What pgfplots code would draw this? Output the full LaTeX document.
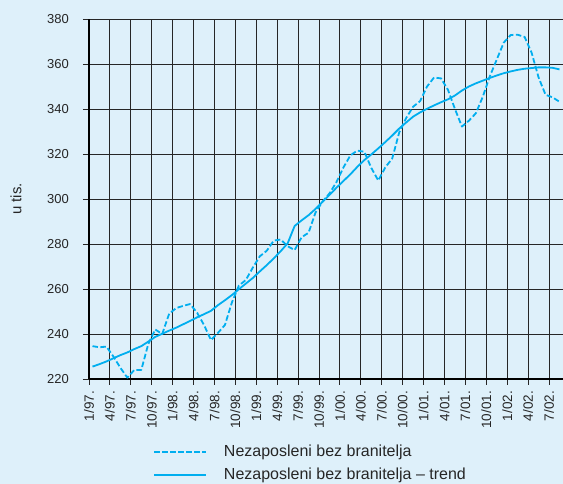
\documentclass[border=0pt]{standalone}
\usepackage{fontspec}
\setmainfont{Liberation Sans}
\usepackage{pgfplots}
\pgfplotsset{compat=1.18}
\definecolor{bg}{RGB}{222,240,250}
\definecolor{cy}{RGB}{0,174,239}
\begin{document}
\begin{tikzpicture}
\fill[bg] (-89pt,-105pt) rectangle (474pt,379pt);
\path[use as bounding box] (-89pt,-105pt) rectangle (474pt,379pt);
\begin{axis}[
 at={(0pt,0pt)}, anchor=south west,
 scale only axis, width=474pt, height=360pt,
 xmin=0, xmax=68, ymin=220, ymax=380,
 axis x line*=bottom, axis y line*=left,
 x axis line style={-, line width=2.2pt, black},
 y axis line style={-, line width=2.6pt, black},
 xtick={0,3,...,66},
 xticklabels={1/97.,4/97.,7/97.,10/97.,1/98.,4/98.,7/98.,10/98.,1/99.,4/99.,7/99.,10/99.,1/00.,4/00.,7/00.,10/00.,1/01.,4/01.,7/01.,10/01.,1/02.,4/02.,7/02.},
 ytick={220,240,...,380},
 grid=major,
 major grid style={black!85, line width=0.9pt},
 tick align=outside, major tick length=6pt,
 tick style={black!85, line width=0.9pt},
 /pgf/number format/assume math mode=true,
 yticklabel style={font=\fontsize{13}{15}\selectfont, inner sep=0pt, xshift=-14pt, text=black!85},
 xticklabel style={font=\fontsize{13.5}{15}\selectfont, rotate=90, anchor=east, inner sep=0pt, text=black!85},
 xticklabel shift=6pt,
 ylabel={u tis.},
 every axis y label/.style={at={(axis description cs:-0.154,0.5)}, rotate=90, anchor=center, font=\fontsize{15}{17}\selectfont, text=black!85},
 legend style={at={(axis description cs:0.135,-0.2347)}, anchor=west, draw=none, fill=none, inner sep=0pt, row sep=8pt, column sep=17pt, nodes={inner sep=0pt, text height=12pt, text depth=3pt, font=\fontsize{16}{19}\selectfont, text=black!85}},
 legend cell align=left,
 legend image code/.code={\draw[#1] (0pt,0pt) -- (52pt,0pt);},
]
\addplot[cy, line width=1.8pt, dash pattern=on 5.5pt off 2.5pt, line join=round] table[x expr=\coordindex+0.5, y=v] {
v
234.6
234.1
234.4
230.0
225.0
220.6
224.0
224.0
235.5
242.0
240.0
249.0
251.5
252.5
253.3
249.5
244.0
237.3
240.5
244.0
254.0
261.5
264.0
269.5
274.5
277.0
281.5
282.0
279.0
277.3
283.0
285.0
294.0
298.8
302.5
307.5
314.0
319.4
321.5
321.0
313.8
308.2
314.0
318.0
329.5
336.0
341.0
343.5
350.0
354.0
353.6
348.5
340.0
332.2
334.8
338.1
345.5
354.5
362.0
369.5
372.9
373.0
372.0
365.0
354.0
346.3
345.2
343.2
};
\addlegendentry{Nezaposleni bez branitelja}
\addplot[cy, line width=1.8pt, line join=round] table[x expr=\coordindex+0.5, y=v] {
v
225.5
226.6
227.8
229.2
230.6
231.8
233.3
234.6
236.6
238.7
240.1
241.5
242.8
244.3
245.8
247.4
248.8
250.3
252.8
255.0
257.3
259.9
262.4
264.9
267.8
270.6
273.6
276.8
280.3
288.0
290.5
292.8
295.6
298.7
301.8
305.0
308.0
311.0
314.3
317.3
319.8
322.5
325.3
328.2
331.3
334.0
336.6
338.5
340.1
341.6
343.0
344.3
346.0
348.2
350.0
351.4
352.6
353.8
354.9
355.9
356.7
357.4
357.9
358.2
358.5
358.5
358.3
357.6
};
\addlegendentry{Nezaposleni bez branitelja -- trend}
\end{axis}
\end{tikzpicture}
\end{document}
